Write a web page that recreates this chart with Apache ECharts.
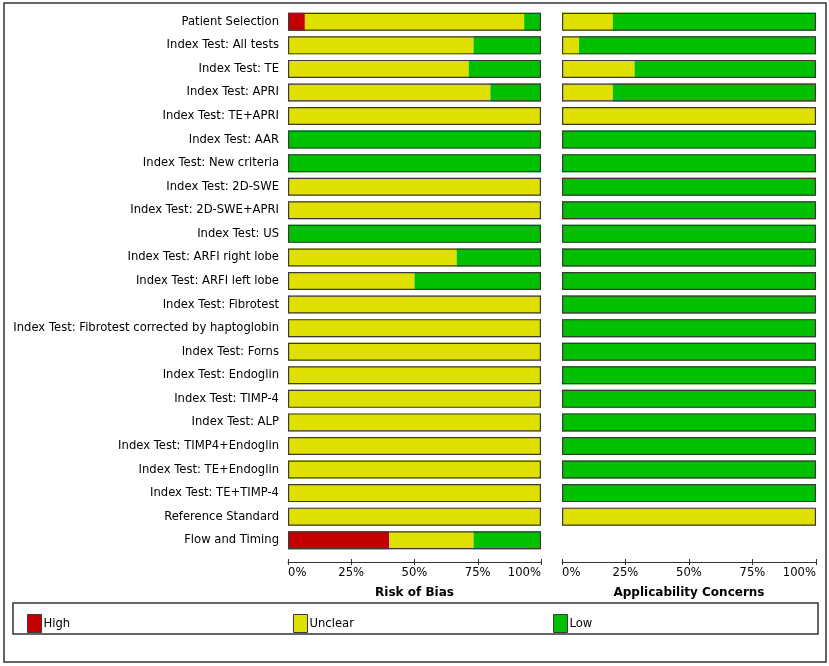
<!DOCTYPE html>
<html>
<head>
<meta charset="utf-8">
<script src="https://cdn.jsdelivr.net/npm/echarts@6/dist/echarts.min.js"></script>
<style>
  html, body { margin: 0; padding: 0; background: #fff; }
  #chart { width: 829px; height: 666px; }
</style>
</head>
<body>
<div id="chart"></div>
<script>
const categories = [
  "Patient Selection",
  "Index Test: All tests",
  "Index Test: TE",
  "Index Test: APRI",
  "Index Test: TE+APRI",
  "Index Test: AAR",
  "Index Test: New criteria",
  "Index Test: 2D-SWE",
  "Index Test: 2D-SWE+APRI",
  "Index Test: US",
  "Index Test: ARFI right lobe",
  "Index Test: ARFI left lobe",
  "Index Test: Fibrotest",
  "Index Test: Fibrotest corrected by haptoglobin",
  "Index Test: Forns",
  "Index Test: Endoglin",
  "Index Test: TIMP-4",
  "Index Test: ALP",
  "Index Test: TIMP4+Endoglin",
  "Index Test: TE+Endoglin",
  "Index Test: TE+TIMP-4",
  "Reference Standard",
  "Flow and Timing"
];

// risk of bias (percent of studies)
const biasHigh    = [6.67, 0, 0, 0, 0, 0, 0, 0, 0, 0, 0, 0, 0, 0, 0, 0, 0, 0, 0, 0, 0, 0, 40];
const biasUnclear = [86.67, 73.33, 71.43, 80, 100, 0, 0, 100, 100, 0, 66.67, 50, 100, 100, 100, 100, 100, 100, 100, 100, 100, 100, 33.33];
const biasLow     = [6.67, 26.67, 28.57, 20, 0, 100, 100, 0, 0, 100, 33.33, 50, 0, 0, 0, 0, 0, 0, 0, 0, 0, 0, 26.67];

// applicability concerns (no row for flow and timing)
const applHigh    = [0, 0, 0, 0, 0, 0, 0, 0, 0, 0, 0, 0, 0, 0, 0, 0, 0, 0, 0, 0, 0, 0, null];
const applUnclear = [20, 6.67, 28.57, 20, 100, 0, 0, 0, 0, 0, 0, 0, 0, 0, 0, 0, 0, 0, 0, 0, 0, 100, null];
const applLow     = [80, 93.33, 71.43, 80, 0, 100, 100, 100, 100, 100, 100, 100, 100, 100, 100, 100, 100, 100, 100, 100, 100, 0, null];

const xTicks = [0, 25, 50, 75, 100];
const panelTitles = ["Risk of Bias", "Applicability Concerns"];

const colors = { High: "#c40000", Unclear: "#e0e000", Low: "#00c000" };
const font = "DejaVu Sans";
const fs = 11.6;
const barW = 18;

const chart = echarts.init(document.getElementById("chart"));

function segments(idx, high, unclear, low) {
  const s = (name, data) => ({
    name: name,
    type: "bar",
    stack: "s" + idx,
    xAxisIndex: idx * 2,
    yAxisIndex: idx,
    barWidth: barW,
    data: data,
    itemStyle: { color: colors[name] },
    emphasis: { disabled: true }
  });
  const outline = high.map(v => v === null ? null : 100);
  return [
    s("High", high),
    s("Unclear", unclear),
    s("Low", low),
    {
      type: "bar",
      xAxisIndex: idx * 2,
      yAxisIndex: idx,
      barWidth: barW,
      barGap: "-100%",
      data: outline,
      silent: true,
      z: 5,
      itemStyle: { color: "rgba(0,0,0,0)", borderColor: "#3a3a3a", borderWidth: 1.2 }
    }
  ];
}

function xAxes(idx) {
  return [
    {
      gridIndex: idx,
      type: "value",
      position: "bottom",
      offset: 10,
      min: xTicks[0],
      max: xTicks[xTicks.length - 1],
      interval: 25,
      name: panelTitles[idx],
      nameLocation: "middle",
      nameGap: 25,
      nameTextStyle: { fontFamily: font, fontSize: 12, fontWeight: "bold", color: "#000" },
      axisLine: { show: true, lineStyle: { color: "#333", width: 1.2 } },
      axisTick: { show: true, length: 3, lineStyle: { color: "#333" } },
      axisLabel: {
        formatter: "{value}%", fontFamily: font, fontSize: fs, color: "#000", margin: 5,
        alignMinLabel: "left", alignMaxLabel: "right"
      },
      splitLine: { show: false }
    },
    {
      gridIndex: idx,
      type: "value",
      position: "bottom",
      offset: 10,
      min: 0, max: 100, interval: 25,
      axisLine: { show: false },
      axisTick: { show: true, inside: true, length: 3, lineStyle: { color: "#333" } },
      axisLabel: { show: false },
      splitLine: { show: false }
    }
  ];
}

function legendItem(name, left) {
  return {
    data: [name],
    left: left,
    top: 609,
    icon: "rect",
    itemWidth: 14,
    itemHeight: 18,
    itemGap: 4,
    selectedMode: false,
    itemStyle: { borderColor: "#3a3a3a", borderWidth: 1 },
    textStyle: { fontFamily: font, fontSize: fs, color: "#000", padding: [0, 0, 0, -3] }
  };
}

chart.setOption({
  animation: false,
  grid: [
    { left: 288, width: 253, top: 10, height: 542 },
    { left: 562, width: 254, top: 10, height: 542 }
  ],
  xAxis: [...xAxes(0), ...xAxes(1)],
  yAxis: [0, 1].map(i => ({
    gridIndex: i,
    type: "category",
    inverse: true,
    data: categories,
    axisLine: { show: false },
    axisTick: { show: false },
    axisLabel: { show: i === 0, fontFamily: font, fontSize: fs, color: "#000", margin: 9 }
  })),
  legend: [
    legendItem("High", 22),
    legendItem("Unclear", 288),
    legendItem("Low", 548)
  ],
  graphic: [
    {
      type: "rect", silent: true,
      shape: { x: 4, y: 3, width: 822, height: 659 },
      style: { fill: "none", stroke: "#333", lineWidth: 1.5 }
    },
    {
      type: "rect", silent: true,
      shape: { x: 13, y: 603, width: 805, height: 31 },
      style: { fill: "none", stroke: "#333", lineWidth: 1.5 }
    }
  ],
  series: [
    ...segments(0, biasHigh, biasUnclear, biasLow),
    ...segments(1, applHigh, applUnclear, applLow)
  ]
});
</script>
</body>
</html>
